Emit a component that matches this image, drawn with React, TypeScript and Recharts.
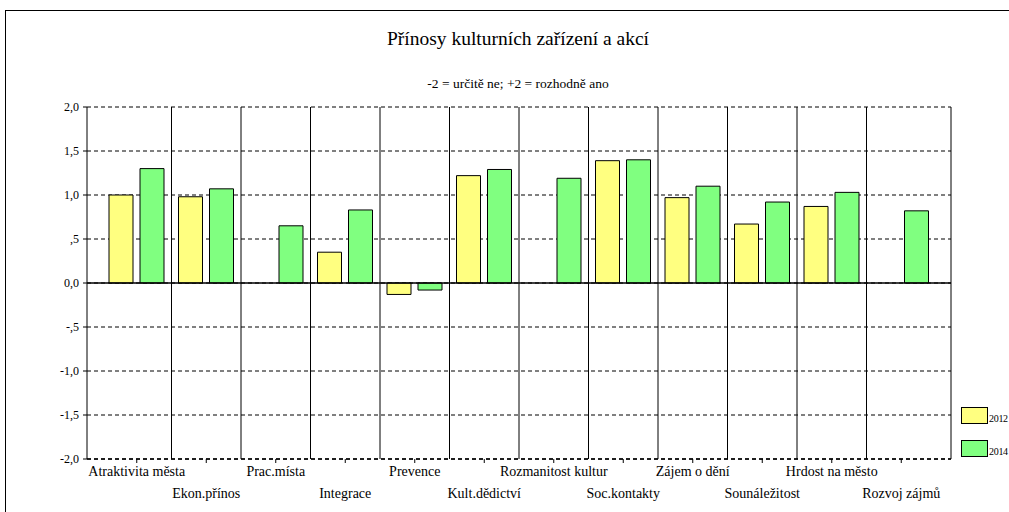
import React from 'react';
import { BarChart, Bar, XAxis, YAxis, CartesianGrid, ReferenceLine, Legend } from 'recharts';

const categories = [
  'Atraktivita města',
  'Ekon.přínos',
  'Prac.místa',
  'Integrace',
  'Prevence',
  'Kult.dědictví',
  'Rozmanitost  kultur',
  'Soc.kontakty',
  'Zájem o dění',
  'Sounáležitost',
  'Hrdost na město',
  'Rozvoj zájmů',
];
const values2012 = [1.0, 0.98, null, 0.35, -0.13, 1.22, null, 1.39, 0.97, 0.67, 0.87, null];
const values2014 = [1.3, 1.07, 0.65, 0.83, -0.08, 1.29, 1.19, 1.4, 1.1, 0.92, 1.03, 0.82];
const seriesNames = ['2012', '2014'];

const yTicks = [-2, -1.5, -1, -0.5, 0, 0.5, 1, 1.5, 2];
const yTickLabels = ['-2,0', '-1,5', '-1,0', '-,5', '0,0', ',5', '1,0', '1,5', '2,0'];

const title = 'Přínosy kulturních zařízení a akcí';
const subtitle = '-2 = určitě ne; +2 = rozhodně ano';

const data = categories.map((name, i) => ({
  name,
  y2012: values2012[i],
  y2014: values2014[i],
}));

const FONT = "'Liberation Serif', Tinos, 'Times New Roman', 'DejaVu Serif', serif";
const X_PAD = 15;

const CategoryTick = (props: any) => {
  const { x, y, payload, index } = props;
  const dy = index % 2 === 0 ? 11 : 33;
  return (
    <text x={x} y={y + dy} textAnchor="middle" fontSize={14} style={{ fontFamily: FONT }} fill="#000">
      {payload.value}
    </text>
  );
};

const LegendBoxes = (props: any) => {
  const { payload } = props;
  return (
    <div style={{ fontFamily: FONT }}>
      {(payload || []).map((p: any) => (
        <div key={p.value} style={{ display: 'flex', alignItems: 'flex-end', height: 17, marginBottom: 16 }}>
          <span
            style={{
              width: 27,
              height: 17,
              background: p.color,
              border: '1px solid #000',
              boxSizing: 'border-box',
              display: 'inline-block',
              flex: 'none',
            }}
          />
          <span style={{ fontSize: 10, marginLeft: 1, lineHeight: '10px', letterSpacing: -0.3, whiteSpace: 'nowrap' }}>
            {p.value}
          </span>
        </div>
      ))}
    </div>
  );
};

const boundaryLines = ({ offset }: any) => {
  const band = (offset.width - 2 * X_PAD) / categories.length;
  return categories.slice(1).map((_, i) => offset.left + X_PAD + band * (i + 1));
};

const App = () => {
  return (
    <div
      style={{
        position: 'absolute',
        left: 0,
        top: 0,
        width: 1009,
        height: 512,
        overflow: 'hidden',
        background: '#fff',
        fontFamily: FONT,
      }}
    >
      <div
        style={{
          position: 'absolute',
          left: 5,
          top: 10,
          width: 1100,
          height: 600,
          border: '1px solid #000',
        }}
      />
      <div style={{ position: 'absolute', left: 0, top: 28, width: 1036, textAlign: 'center', fontSize: 19.5, lineHeight: '22px' }}>
        {title}
      </div>
      <div style={{ position: 'absolute', left: 0, top: 76, width: 1036, textAlign: 'center', fontSize: 13.5, lineHeight: '16px' }}>
        {subtitle}
      </div>
      <BarChart
        width={1009}
        height={512}
        data={data}
        margin={{ top: 107, right: 0, bottom: 0, left: 0 }}
        barSize={24}
        barGap={7}
        style={{ fontFamily: FONT }}
      >
        <CartesianGrid horizontal={true} vertical={false} stroke="#000" strokeDasharray="4 3" />
        <CartesianGrid horizontal={false} vertical={true} stroke="#000" verticalCoordinatesGenerator={boundaryLines} />
        <XAxis
          dataKey="name"
          interval={0}
          padding={{ left: X_PAD, right: X_PAD }}
          height={53}
          tickSize={4}
          tickLine={{ stroke: '#000' }}
          axisLine={{ stroke: '#000', strokeDasharray: '4 3', strokeWidth: 1.5 }}
          tick={<CategoryTick />}
        />
        <YAxis
          domain={[-2, 2]}
          ticks={yTicks}
          width={87}
          tickSize={4}
          tickMargin={4}
          interval={0}
          tickLine={{ stroke: '#000' }}
          axisLine={{ stroke: '#000' }}
          tick={{ fill: '#000', fontSize: 12, style: { fontFamily: FONT } }}
          tickFormatter={(v: number) => yTickLabels[yTicks.indexOf(v)]}
        />
        <YAxis
          yAxisId="frame"
          orientation="right"
          domain={[-2, 2]}
          width={58}
          tick={false}
          tickLine={false}
          axisLine={{ stroke: '#000' }}
        />
        <ReferenceLine y={0} stroke="#000" strokeWidth={1.5} />
        <Bar dataKey="y2012" name={seriesNames[0]} fill="#FFFF80" stroke="#000" strokeWidth={1} isAnimationActive={false} />
        <Bar dataKey="y2014" name={seriesNames[1]} fill="#80FF80" stroke="#000" strokeWidth={1} isAnimationActive={false} />
        <Legend
          layout="horizontal"
          align="center"
          verticalAlign="middle"
          content={<LegendBoxes />}
          wrapperStyle={{ left: 961, top: 407, width: 48, height: 60 }}
        />
      </BarChart>
    </div>
  );
};

export default App;
